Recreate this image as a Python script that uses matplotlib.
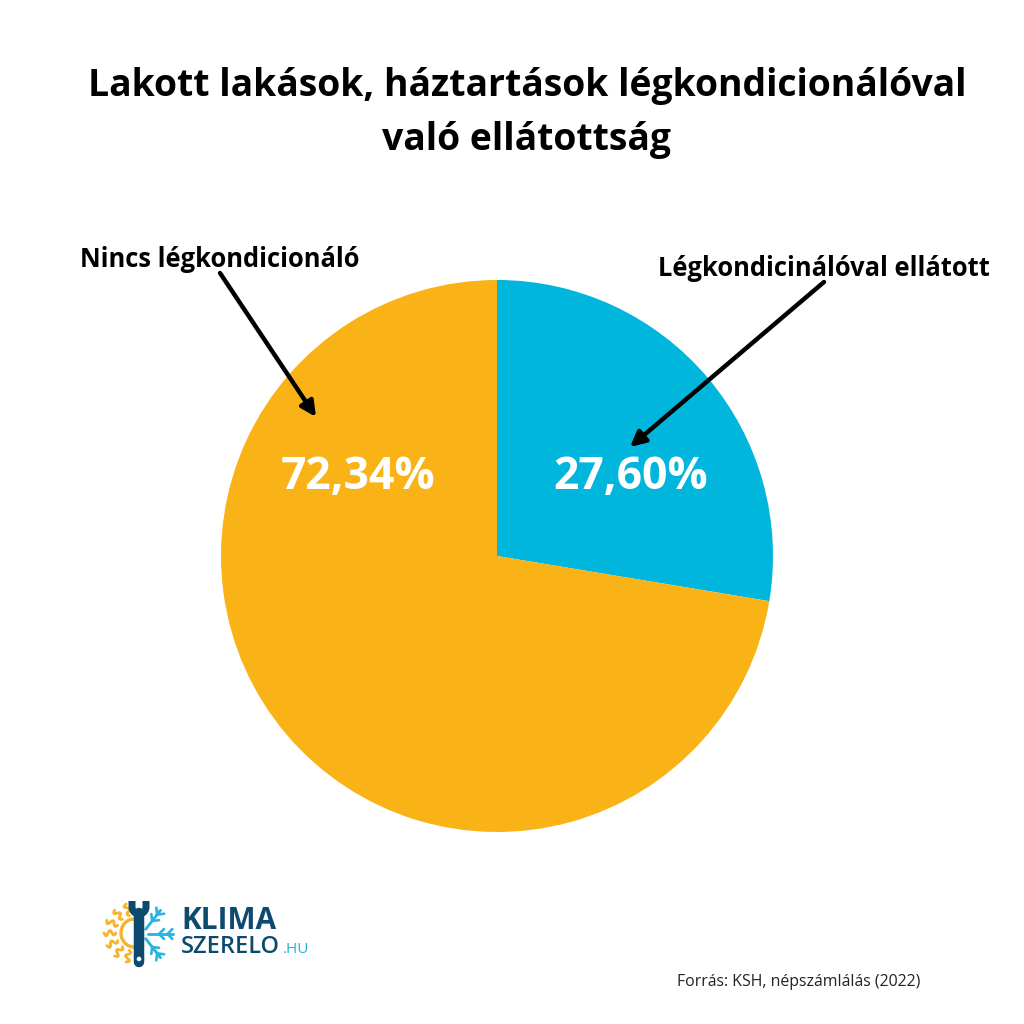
import matplotlib
matplotlib.use("Agg")
import matplotlib.pyplot as plt
from matplotlib.patches import Arc, Circle
import numpy as np

# ---- data ----
categories = ["Légkondicinálóval ellátott", "Nincs légkondicionáló"]
values = [27.60, 72.34]
colors = ["#00B6DD", "#F9B317"]
title_lines = ["Lakott lakások, háztartások légkondicionálóval", "való ellátottság"]
source = "Forrás: KSH, népszámlálás (2022)"

plt.rcParams['font.family'] = ['Open Sans', 'DejaVu Sans']

W = H = 1024
fig = plt.figure(figsize=(10.24, 10.24), dpi=100)
fig.patch.set_facecolor("white")

# pie axes: center (497,556) px, radius 276 px
R = 276
cx, cy = 497, 556
ax = fig.add_axes([(cx - R) / W, (H - cy - R) / H, 2 * R / W, 2 * R / H])
ax.pie(values, colors=colors, startangle=90, counterclock=False,
       radius=1, wedgeprops=dict(linewidth=0))
ax.set_xlim(-1, 1)
ax.set_ylim(-1, 1)
ax.set_aspect("equal")
ax.axis("off")

# overlay axes in pixel coords (y down)
ov = fig.add_axes([0, 0, 1, 1], facecolor="none")
ov.set_xlim(0, W)
ov.set_ylim(H, 0)
ov.axis("off")

def fmt(v):
    return f"{v:.2f}".replace(".", ",") + "%"

# title
ov.text(527, 96, title_lines[0], ha="center", va="baseline", fontsize=26.9,
        fontweight="bold", color="black")
ov.text(527, 150, title_lines[1], ha="center", va="baseline", fontsize=26.9,
        fontweight="bold", color="black")

# percentage labels
ov.text(631, 489, fmt(values[0]), ha="center", va="baseline", fontsize=32,
        fontweight="bold", color="white")
ov.text(358, 489, fmt(values[1]), ha="center", va="baseline", fontsize=32,
        fontweight="bold", color="white")

# category labels
ov.text(824, 276, categories[0], ha="center", va="baseline", fontsize=18.4,
        fontweight="bold", color="black")
ov.text(220, 267, categories[1], ha="center", va="baseline", fontsize=18.4,
        fontweight="bold", color="black")

# arrows
ap = dict(arrowstyle="-|>,head_length=0.9,head_width=0.45", color="black",
          lw=3.2, shrinkA=0, shrinkB=0)
ov.annotate("", xy=(630, 447), xytext=(824, 282), arrowprops=ap)
ov.annotate("", xy=(316, 417), xytext=(220, 273), arrowprops=ap)

# source
ov.text(920, 986, source, ha="right", va="baseline", fontsize=11.4,
        color="#222222")

# ---- logo ----
navy = "#0D4A70"
lblue = "#27B4E0"
orange = "#F7B52C"
PT = 0.72  # px -> pt
# sun (left half)
sx, sy = 134, 933
ov.add_patch(Arc((sx, sy), 26, 28, theta1=90, theta2=270, color=orange, lw=2.4 * PT * 1.4))
for ang in np.linspace(105, 255, 7):
    a = np.deg2rad(ang)
    t = np.linspace(0, 1, 20)
    rr = 18 + 12 * t
    wob = 0.10 * np.sin(t * 2 * np.pi * 1.5)
    xs = sx + rr * np.cos(a + wob)
    ys = sy - rr * np.sin(a + wob)
    ov.plot(xs, ys, color=orange, lw=2.2 * PT * 1.3, solid_capstyle="round")
# snowflake (right half)
fx, fy = 142, 934
for ang in [52, 0, -52]:
    a = np.deg2rad(ang)
    L = 31 if ang == 0 else 30
    x1, y1 = fx + L * np.cos(a), fy - L * np.sin(a)
    x0, y0 = fx + 6 * np.cos(a), fy - 6 * np.sin(a)
    ov.plot([x0, x1], [y0, y1], color=lblue, lw=2.2 * PT * 1.3, solid_capstyle="round")
    for f in [0.55, 0.82]:
        px, py = fx + L * f * np.cos(a), fy - L * f * np.sin(a)
        for d in [45, -45]:
            b = a + np.deg2rad(d)
            ov.plot([px, px + 7 * np.cos(b)], [py, py - 7 * np.sin(b)],
                    color=lblue, lw=2 * PT * 1.3, solid_capstyle="round")
# wrench
th = np.linspace(np.pi, 0, 30)
hx = 139 + 7 * np.cos(th)
hy = 907 + 7 * np.sin(th) * 1.0
hx = np.concatenate([[132], hx, [146]])
hy = np.concatenate([[901], hy, [901]])
ov.plot(hx, hy, color=navy, lw=5 * PT * 1.4, solid_capstyle="butt", zorder=5)
ov.plot([139, 139], [913, 962], color=navy, lw=7.5 * PT * 1.4, solid_capstyle="round", zorder=5)
ov.add_patch(Circle((139, 959), 1.6, color="white", zorder=6))

ov.text(181, 929, "KLIMA", ha="left", va="baseline", fontsize=21.5,
        fontweight="bold", color=navy)
ov.text(181, 953, "SZERELO", ha="left", va="baseline", fontsize=17,
        fontweight="semibold", color=navy)
ov.text(283, 953, ".HU", ha="left", va="baseline", fontsize=11,
        color=lblue)

fig.savefig("out.png", dpi=100, facecolor="white")
